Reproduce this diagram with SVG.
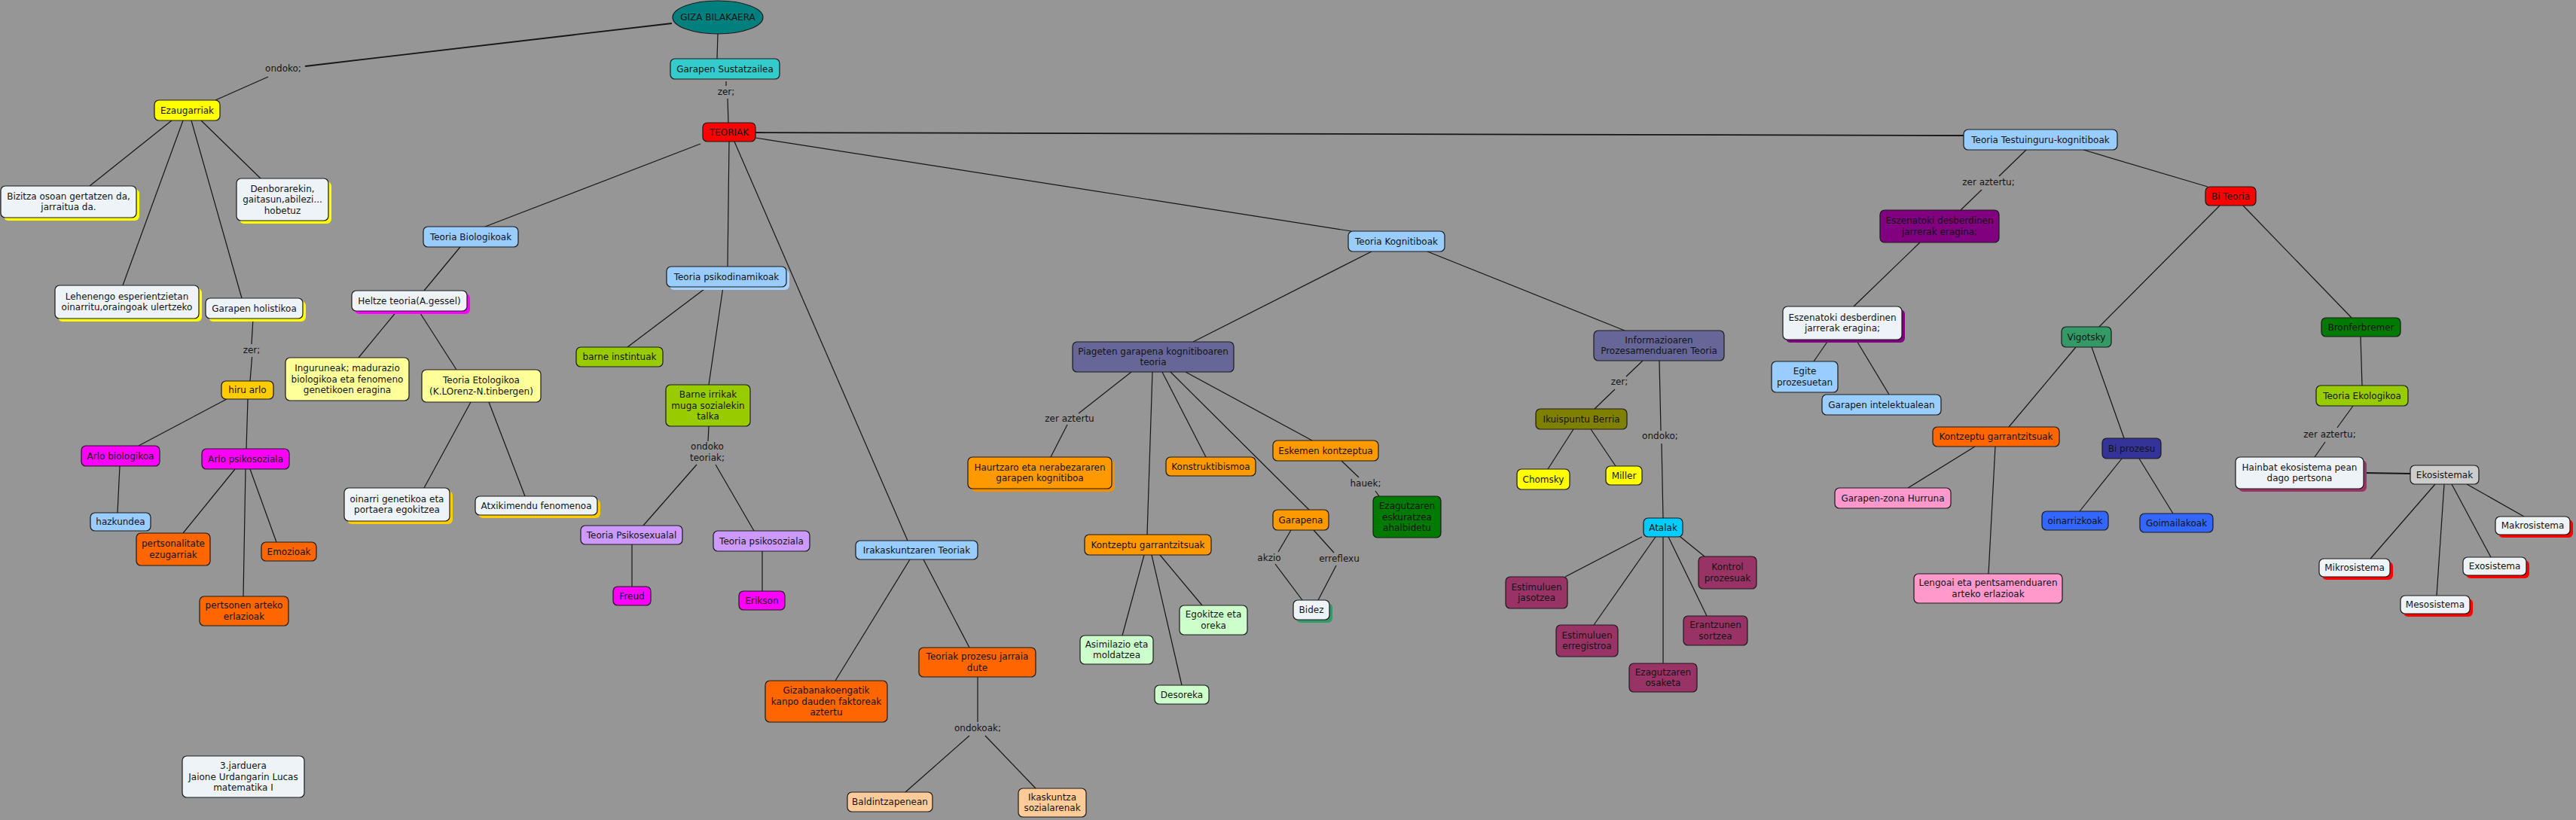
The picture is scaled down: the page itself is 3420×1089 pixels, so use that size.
<svg xmlns="http://www.w3.org/2000/svg" width="3420" height="1089" viewBox="0 0 3420 1089">
<style>
.t{font-family:"DejaVu Sans",Verdana,sans-serif;font-size:12px;text-anchor:middle;fill:#141414}
.n{stroke:#1a1a1a;stroke-width:1.2}
.s{stroke:none}
#conn line,#conn polyline{stroke:#151515;stroke-width:1.2;fill:none}
.thick{stroke-width:1.8 !important}
.wht{fill:#EEF3F7}.yel{fill:#FFFF00}.red{fill:#FF0000}.turq{fill:#33CCCC}.gold{fill:#FFCC00}.mag{fill:#FF00FF}
.lblue{fill:#99CCFF}.ora{fill:#FF6600}.lyel{fill:#FFFF99}.ygrn{fill:#99CC00}.lav{fill:#CC99FF}.peach{fill:#FFCC99}
.slate{fill:#666699}.ora2{fill:#FF9900}.grn{fill:#007A00}.lgrn{fill:#CCFFCC}.olive{fill:#808000}.sky{fill:#00CCFF}
.plum{fill:#993366}.purp{fill:#800080}.sea{fill:#339966}.navy{fill:#333399}.pink{fill:#FF99CC}.blue{fill:#3366FF}.grey{fill:#CCCCCC}
</style>
<rect x="0" y="0" width="3420" height="1089" fill="#969696"/>
<g id="conn">
<line x1="953" y1="45" x2="952" y2="78"/>
<line x1="964" y1="108" x2="964" y2="114"/>
<line x1="966" y1="131" x2="967" y2="163"/>
<line class="thick" x1="892" y1="31" x2="405" y2="88"/>
<line x1="356" y1="102" x2="286" y2="133"/>
<line class="thick" x1="1003" y1="176" x2="2607" y2="180"/>
<line x1="1003" y1="183" x2="1794" y2="307"/>
<line x1="930" y1="191" x2="644" y2="301"/>
<line x1="968" y1="188" x2="966" y2="354"/>
<line x1="975" y1="188" x2="1205" y2="718"/>
<line x1="228" y1="160" x2="119" y2="247"/>
<line x1="243" y1="160" x2="163" y2="379"/>
<line x1="254" y1="160" x2="321" y2="396"/>
<line x1="267" y1="160" x2="346" y2="237"/>
<line x1="336" y1="423" x2="334" y2="457"/>
<line x1="334.6" y1="474" x2="332" y2="506"/>
<line x1="301" y1="530" x2="184" y2="592"/>
<line x1="329" y1="530" x2="327" y2="596"/>
<line x1="159" y1="619" x2="156" y2="681"/>
<line x1="312" y1="623" x2="243" y2="708"/>
<line x1="332" y1="623" x2="367" y2="720"/>
<line x1="326" y1="623" x2="323" y2="792"/>
<line x1="611" y1="328" x2="563" y2="386"/>
<line x1="527" y1="413" x2="476" y2="475"/>
<line x1="556" y1="413" x2="606" y2="491"/>
<line x1="625" y1="534" x2="563" y2="648"/>
<line x1="649" y1="534" x2="697" y2="659"/>
<line x1="939" y1="381" x2="833" y2="461"/>
<line x1="960" y1="381" x2="941" y2="511"/>
<line x1="941" y1="566" x2="940" y2="586"/>
<line x1="925" y1="617" x2="854" y2="698"/>
<line x1="950" y1="617" x2="1001" y2="705"/>
<line x1="839" y1="723" x2="839" y2="779"/>
<line x1="1012" y1="732" x2="1012" y2="785"/>
<line x1="1821" y1="334" x2="1584" y2="454"/>
<line x1="1895" y1="334" x2="2157" y2="439"/>
<line x1="1502" y1="494" x2="1432" y2="549"/>
<line x1="1417" y1="564" x2="1395" y2="607"/>
<line x1="1530" y1="494" x2="1523" y2="710"/>
<line x1="1543" y1="494" x2="1601" y2="607"/>
<line x1="1554" y1="494" x2="1738" y2="677"/>
<line x1="1574" y1="494" x2="1742" y2="585"/>
<line x1="1781" y1="612" x2="1804" y2="634"/>
<line x1="1826" y1="652" x2="1831" y2="659"/>
<line x1="1714" y1="704" x2="1697" y2="733"/>
<line x1="1693" y1="749" x2="1729" y2="797"/>
<line x1="1744" y1="704" x2="1771" y2="734"/>
<line x1="1774" y1="751" x2="1750" y2="797"/>
<line x1="1519" y1="737" x2="1490" y2="844"/>
<line x1="1529" y1="737" x2="1569" y2="910"/>
<line x1="1540" y1="737" x2="1596" y2="804"/>
<line x1="1208" y1="743" x2="1109" y2="904"/>
<line x1="1226" y1="743" x2="1287" y2="860"/>
<line x1="1298" y1="899" x2="1298" y2="959"/>
<line x1="1287" y1="977" x2="1202" y2="1052"/>
<line x1="1308" y1="977" x2="1375" y2="1047"/>
<line x1="2181" y1="479" x2="2159" y2="500"/>
<line x1="2144" y1="517" x2="2117" y2="543"/>
<line x1="2089" y1="570" x2="2055" y2="623"/>
<line x1="2112" y1="570" x2="2145" y2="619"/>
<line x1="2203" y1="479" x2="2205" y2="572"/>
<line x1="2206" y1="589" x2="2208" y2="688"/>
<line x1="2180" y1="713" x2="2078" y2="766"/>
<line x1="2198" y1="713" x2="2116" y2="830"/>
<line x1="2208" y1="713" x2="2208" y2="881"/>
<line x1="2215" y1="713" x2="2266" y2="818"/>
<line x1="2231" y1="713" x2="2263" y2="739"/>
<line x1="2690" y1="199" x2="2654" y2="234"/>
<line x1="2631" y1="252" x2="2603" y2="279"/>
<line x1="2766" y1="199" x2="2931" y2="248"/>
<line x1="2549" y1="322" x2="2461" y2="407"/>
<line x1="2947" y1="273" x2="2787" y2="434"/>
<line x1="2978" y1="273" x2="3122" y2="422"/>
<line x1="2428" y1="451" x2="2408" y2="480"/>
<line x1="2464" y1="451" x2="2508" y2="524"/>
<line x1="2756" y1="461" x2="2667" y2="567"/>
<line x1="2777" y1="461" x2="2820" y2="582"/>
<line x1="2622" y1="593" x2="2533" y2="648"/>
<line x1="2649" y1="593" x2="2640" y2="762"/>
<line x1="2817" y1="609" x2="2761" y2="679"/>
<line x1="2840" y1="609" x2="2885" y2="682"/>
<line x1="3134" y1="447" x2="3136" y2="512"/>
<line x1="3124" y1="539" x2="3103" y2="568"/>
<line x1="3087" y1="587" x2="3073" y2="607"/>
<line class="thick" x1="3138" y1="628" x2="3200" y2="629"/>
<line x1="3233" y1="643" x2="3147" y2="742"/>
<line x1="3245" y1="643" x2="3235" y2="791"/>
<line x1="3255" y1="643" x2="3307" y2="740"/>
<line x1="3275" y1="643" x2="3351" y2="686"/>
</g>
<g id="labels">
<text class="t" x="376" y="95">ondoko;</text>
<text class="t" x="964" y="126">zer;</text>
<text class="t" x="334" y="469">zer;</text>
<text class="t" x="939" y="597">ondoko</text>
<text class="t" x="939" y="612">teoriak;</text>
<text class="t" x="1420" y="560">zer aztertu</text>
<text class="t" x="1813" y="646">hauek;</text>
<text class="t" x="1685" y="745">akzio</text>
<text class="t" x="1778" y="746">erreflexu</text>
<text class="t" x="1298" y="971">ondokoak;</text>
<text class="t" x="2150" y="511">zer;</text>
<text class="t" x="2204" y="583">ondoko;</text>
<text class="t" x="2640" y="246">zer aztertu;</text>
<text class="t" x="3093" y="581">zer aztertu;</text>
</g>
<g id="n-giza"><ellipse class="n" cx="953" cy="23" rx="60" ry="22" fill="#007F7F"/><text class="t" x="953" y="27">GIZA BILAKAERA</text></g>
<g id="n-sustatzailea"><rect class="n turq" x="890" y="78" width="145" height="27" rx="6"/><text class="t" x="962.5" y="95.5">Garapen Sustatzailea</text></g>
<g id="n-teoriak"><rect class="n red" x="933" y="163" width="70" height="25" rx="6"/><text class="t" x="968" y="179.5">TEORIAK</text></g>
<g id="n-ezaugarriak"><rect class="n yel" x="205" y="133" width="87" height="27" rx="6"/><text class="t" x="248.5" y="150.5">Ezaugarriak</text></g>
<g id="n-bizitza"><rect class="s yel" x="5" y="251" width="180" height="42" rx="6"/><rect class="n wht" x="1" y="247" width="180" height="42" rx="6"/><text class="t" x="91" y="264.75">Bizitza osoan gertatzen da,</text><text class="t" x="91" y="279.25">jarraitua da.</text></g>
<g id="n-denborarekin"><rect class="s yel" x="318" y="241" width="122" height="56" rx="6"/><rect class="n wht" x="314" y="237" width="122" height="56" rx="6"/><text class="t" x="375" y="254.5">Denborarekin,</text><text class="t" x="375" y="269">gaitasun,abilezi...</text><text class="t" x="375" y="283.5">hobetuz</text></g>
<g id="n-lehenengo"><rect class="s yel" x="77" y="383" width="191" height="44" rx="6"/><rect class="n wht" x="73" y="379" width="191" height="44" rx="6"/><text class="t" x="168.5" y="397.75">Lehenengo esperientzietan</text><text class="t" x="168.5" y="412.25">oinarritu,oraingoak ulertzeko</text></g>
<g id="n-holistikoa"><rect class="s yel" x="277" y="400" width="129" height="27" rx="6"/><rect class="n wht" x="273" y="396" width="129" height="27" rx="6"/><text class="t" x="337.5" y="413.5">Garapen holistikoa</text></g>
<g id="n-hiruarlo"><rect class="n gold" x="294" y="506" width="69" height="24" rx="6"/><text class="t" x="328.5" y="522">hiru arlo</text></g>
<g id="n-arlobio"><rect class="n mag" x="108" y="592" width="104" height="27" rx="6"/><text class="t" x="160" y="609.5">Arlo biologikoa</text></g>
<g id="n-arlopsiko"><rect class="n mag" x="268" y="596" width="116" height="27" rx="6"/><text class="t" x="326" y="613.5">Arlo psikosoziala</text></g>
<g id="n-hazkundea"><rect class="n lblue" x="120" y="681" width="80" height="24" rx="6"/><text class="t" x="160" y="697">hazkundea</text></g>
<g id="n-pertsonalitate"><rect class="n ora" x="181" y="708" width="98" height="43" rx="6"/><text class="t" x="230" y="726.25">pertsonalitate</text><text class="t" x="230" y="740.75">ezugarriak</text></g>
<g id="n-emozioak"><rect class="n ora" x="347" y="720" width="73" height="25" rx="6"/><text class="t" x="383.5" y="736.5">Emozioak</text></g>
<g id="n-pertsonen"><rect class="n ora" x="265" y="792" width="118" height="39" rx="6"/><text class="t" x="324" y="808.25">pertsonen arteko</text><text class="t" x="324" y="822.75">erlazioak</text></g>
<g id="n-biologikoak"><rect class="n lblue" x="562" y="301" width="126" height="27" rx="6"/><text class="t" x="625" y="318.5">Teoria Biologikoak</text></g>
<g id="n-heltze"><rect class="s mag" x="471" y="390" width="153" height="27" rx="6"/><rect class="n wht" x="467" y="386" width="153" height="27" rx="6"/><text class="t" x="543.5" y="403.5">Heltze teoria(A.gessel)</text></g>
<g id="n-inguruneak"><rect class="n lyel" x="379" y="475" width="164" height="57" rx="6"/><text class="t" x="461" y="493">Inguruneak; madurazio</text><text class="t" x="461" y="507.5">biologikoa eta fenomeno</text><text class="t" x="461" y="522">genetikoen eragina</text></g>
<g id="n-etologikoa"><rect class="n lyel" x="560" y="491" width="158" height="43" rx="6"/><text class="t" x="639" y="509.25">Teoria Etologikoa</text><text class="t" x="639" y="523.75">(K.LOrenz-N.tinbergen)</text></g>
<g id="n-oinarri"><rect class="s gold" x="461" y="652" width="140" height="44" rx="6"/><rect class="n wht" x="457" y="648" width="140" height="44" rx="6"/><text class="t" x="527" y="666.75">oinarri genetikoa eta</text><text class="t" x="527" y="681.25">portaera egokitzea</text></g>
<g id="n-atxikimendu"><rect class="s gold" x="635" y="663" width="162" height="25" rx="6"/><rect class="n wht" x="631" y="659" width="162" height="25" rx="6"/><text class="t" x="712" y="675.5">Atxikimendu fenomenoa</text></g>
<g id="n-psikodinamikoak"><rect class="s" fill="#A6D2FF" x="889" y="358" width="159" height="27" rx="6"/><rect class="n lblue" x="885" y="354" width="159" height="27" rx="6"/><text class="t" x="964.5" y="371.5">Teoria psikodinamikoak</text></g>
<g id="n-instintuak"><rect class="n ygrn" x="765" y="461" width="115" height="26" rx="6"/><text class="t" x="822.5" y="478">barne instintuak</text></g>
<g id="n-irrikak"><rect class="n ygrn" x="884" y="511" width="112" height="55" rx="6"/><text class="t" x="940" y="528">Barne irrikak</text><text class="t" x="940" y="542.5">muga sozialekin</text><text class="t" x="940" y="557">talka</text></g>
<g id="n-psikosexualal"><rect class="n lav" x="771" y="698" width="135" height="25" rx="6"/><text class="t" x="838.5" y="714.5">Teoria Psikosexualal</text></g>
<g id="n-psikosoziala"><rect class="n lav" x="947" y="705" width="128" height="27" rx="6"/><text class="t" x="1011" y="722.5">Teoria psikosoziala</text></g>
<g id="n-freud"><rect class="n mag" x="814" y="779" width="50" height="25" rx="6"/><text class="t" x="839" y="795.5">Freud</text></g>
<g id="n-erikson"><rect class="n mag" x="981" y="785" width="61" height="25" rx="6"/><text class="t" x="1011.5" y="801.5">Erikson</text></g>
<g id="n-jarduera"><rect class="n wht" x="242" y="1004" width="162" height="55" rx="6"/><text class="t" x="323" y="1021">3.jarduera</text><text class="t" x="323" y="1035.5">Jaione Urdangarin Lucas</text><text class="t" x="323" y="1050">matematika I</text></g>
<g id="n-kognitiboak"><rect class="n lblue" x="1790" y="307" width="128" height="27" rx="6"/><text class="t" x="1854" y="324.5">Teoria Kognitiboak</text></g>
<g id="n-irakaskuntzaren"><rect class="n lblue" x="1136" y="718" width="162" height="25" rx="6"/><text class="t" x="1217" y="734.5">Irakaskuntzaren Teoriak</text></g>
<g id="n-gizabanakoengatik"><rect class="n ora" x="1016" y="904" width="162" height="55" rx="6"/><text class="t" x="1097" y="921">Gizabanakoengatik</text><text class="t" x="1097" y="935.5">kanpo dauden faktoreak</text><text class="t" x="1097" y="950">aztertu</text></g>
<g id="n-prozesu"><rect class="n ora" x="1220" y="860" width="155" height="39" rx="6"/><text class="t" x="1297.5" y="876.25">Teoriak prozesu jarraia</text><text class="t" x="1297.5" y="890.75">dute</text></g>
<g id="n-baldintzapenean"><rect class="n peach" x="1125" y="1052" width="113" height="26" rx="6"/><text class="t" x="1181.5" y="1069">Baldintzapenean</text></g>
<g id="n-ikaskuntza"><rect class="n peach" x="1352" y="1047" width="90" height="38" rx="6"/><text class="t" x="1397" y="1062.75">Ikaskuntza</text><text class="t" x="1397" y="1077.25">sozialarenak</text></g>
<g id="n-piageten"><rect class="n slate" x="1424" y="454" width="214" height="40" rx="6"/><text class="t" x="1531" y="470.75">Piageten garapena kognitiboaren</text><text class="t" x="1531" y="485.25">teoria</text></g>
<g id="n-haurtzaro"><rect class="s" fill="#F29100" x="1289" y="611" width="191" height="42" rx="6"/><rect class="n ora2" x="1285" y="607" width="191" height="42" rx="6"/><text class="t" x="1380.5" y="624.75">Haurtzaro eta nerabezararen</text><text class="t" x="1380.5" y="639.25">garapen kognitiboa</text></g>
<g id="n-konstruktibismoa"><rect class="n ora2" x="1548" y="607" width="119" height="25" rx="6"/><text class="t" x="1607.5" y="623.5">Konstruktibismoa</text></g>
<g id="n-eskemen"><rect class="n ora2" x="1690" y="585" width="140" height="27" rx="6"/><text class="t" x="1760" y="602.5">Eskemen kontzeptua</text></g>
<g id="n-eskuratzea"><rect class="n grn" x="1823" y="659" width="90" height="55" rx="6"/><text class="t" x="1868" y="676">Ezagutzaren</text><text class="t" x="1868" y="690.5">eskuratzea</text><text class="t" x="1868" y="705">ahalbidetu</text></g>
<g id="n-garapena"><rect class="n ora2" x="1690" y="677" width="74" height="27" rx="6"/><text class="t" x="1727" y="694.5">Garapena</text></g>
<g id="n-bidez"><rect class="s sea" x="1721" y="801" width="48" height="26" rx="6"/><rect class="n wht" x="1717" y="797" width="48" height="26" rx="6"/><text class="t" x="1741" y="814">Bidez</text></g>
<g id="n-kontzeptu-p"><rect class="n ora2" x="1440" y="710" width="168" height="27" rx="6"/><text class="t" x="1524" y="727.5">Kontzeptu garrantzitsuak</text></g>
<g id="n-asimilazio"><rect class="n lgrn" x="1434" y="844" width="97" height="38" rx="6"/><text class="t" x="1482.5" y="859.75">Asimilazio eta</text><text class="t" x="1482.5" y="874.25">moldatzea</text></g>
<g id="n-egokitze"><rect class="n lgrn" x="1566" y="804" width="90" height="39" rx="6"/><text class="t" x="1611" y="820.25">Egokitze eta</text><text class="t" x="1611" y="834.75">oreka</text></g>
<g id="n-desoreka"><rect class="n lgrn" x="1533" y="910" width="72" height="25" rx="6"/><text class="t" x="1569" y="926.5">Desoreka</text></g>
<g id="n-informazioaren"><rect class="n slate" x="2116" y="439" width="173" height="40" rx="6"/><text class="t" x="2202.5" y="455.75">Informazioaren</text><text class="t" x="2202.5" y="470.25">Prozesamenduaren Teoria</text></g>
<g id="n-ikuispuntu"><rect class="n olive" x="2039" y="543" width="121" height="27" rx="6"/><text class="t" x="2099.5" y="560.5">Ikuispuntu Berria</text></g>
<g id="n-chomsky"><rect class="n yel" x="2014" y="623" width="70" height="27" rx="6"/><text class="t" x="2049" y="640.5">Chomsky</text></g>
<g id="n-miller"><rect class="n yel" x="2132" y="619" width="48" height="25" rx="6"/><text class="t" x="2156" y="635.5">Miller</text></g>
<g id="n-atalak"><rect class="n sky" x="2182" y="688" width="52" height="25" rx="6"/><text class="t" x="2208" y="704.5">Atalak</text></g>
<g id="n-jasotzea"><rect class="n plum" x="1999" y="766" width="82" height="42" rx="6"/><text class="t" x="2040" y="783.75">Estimuluen</text><text class="t" x="2040" y="798.25">jasotzea</text></g>
<g id="n-erregistroa"><rect class="n plum" x="2066" y="830" width="82" height="42" rx="6"/><text class="t" x="2107" y="847.75">Estimuluen</text><text class="t" x="2107" y="862.25">erregistroa</text></g>
<g id="n-osaketa"><rect class="n plum" x="2163" y="881" width="90" height="38" rx="6"/><text class="t" x="2208" y="896.75">Ezagutzaren</text><text class="t" x="2208" y="911.25">osaketa</text></g>
<g id="n-erantzunen"><rect class="n plum" x="2235" y="818" width="85" height="39" rx="6"/><text class="t" x="2277.5" y="834.25">Erantzunen</text><text class="t" x="2277.5" y="848.75">sortzea</text></g>
<g id="n-kontrol"><rect class="n plum" x="2255" y="739" width="77" height="43" rx="6"/><text class="t" x="2293.5" y="757.25">Kontrol</text><text class="t" x="2293.5" y="771.75">prozesuak</text></g>
<g id="n-testuinguru"><rect class="n lblue" x="2607" y="172" width="204" height="27" rx="6"/><text class="t" x="2709" y="189.5">Teoria Testuinguru-kognitiboak</text></g>
<g id="n-eszenatoki1"><rect class="n purp" x="2496" y="279" width="158" height="43" rx="6"/><text class="t" x="2575" y="297.25">Eszenatoki desberdinen</text><text class="t" x="2575" y="311.75">jarrerak eragina;</text></g>
<g id="n-biteoria"><rect class="n red" x="2928" y="248" width="67" height="25" rx="6"/><text class="t" x="2961.5" y="264.5">Bi Teoria</text></g>
<g id="n-eszenatoki2"><rect class="s purp" x="2371" y="411" width="158" height="44" rx="6"/><rect class="n wht" x="2367" y="407" width="158" height="44" rx="6"/><text class="t" x="2446" y="425.75">Eszenatoki desberdinen</text><text class="t" x="2446" y="440.25">jarrerak eragina;</text></g>
<g id="n-egite"><rect class="n lblue" x="2352" y="480" width="88" height="41" rx="6"/><text class="t" x="2396" y="497.25">Egite</text><text class="t" x="2396" y="511.75">prozesuetan</text></g>
<g id="n-intelektualean"><rect class="n lblue" x="2419" y="524" width="158" height="27" rx="6"/><text class="t" x="2498" y="541.5">Garapen intelektualean</text></g>
<g id="n-vigotsky"><rect class="n sea" x="2737" y="434" width="66" height="27" rx="6"/><text class="t" x="2770" y="451.5">Vigotsky</text></g>
<g id="n-bronferbremer"><rect class="n grn" x="3082" y="422" width="105" height="25" rx="6"/><text class="t" x="3134.5" y="438.5">Bronferbremer</text></g>
<g id="n-kontzeptu-v"><rect class="n ora" x="2566" y="567" width="168" height="26" rx="6"/><text class="t" x="2650" y="584">Kontzeptu garrantzitsuak</text></g>
<g id="n-biprozesu"><rect class="n navy" x="2791" y="582" width="78" height="27" rx="6"/><text class="t" x="2830" y="599.5">Bi prozesu</text></g>
<g id="n-garapenzona"><rect class="n pink" x="2436" y="648" width="154" height="27" rx="6"/><text class="t" x="2513" y="665.5">Garapen-zona Hurruna</text></g>
<g id="n-lengoai"><rect class="n pink" x="2541" y="762" width="197" height="39" rx="6"/><text class="t" x="2639.5" y="778.25">Lengoai eta pentsamenduaren</text><text class="t" x="2639.5" y="792.75">arteko erlazioak</text></g>
<g id="n-oinarrizkoak"><rect class="n blue" x="2711" y="679" width="88" height="25" rx="6"/><text class="t" x="2755" y="695.5">oinarrizkoak</text></g>
<g id="n-goimailakoak"><rect class="n blue" x="2841" y="682" width="97" height="25" rx="6"/><text class="t" x="2889.5" y="698.5">Goimailakoak</text></g>
<g id="n-ekologikoa"><rect class="n ygrn" x="3075" y="512" width="122" height="27" rx="6"/><text class="t" x="3136" y="529.5">Teoria Ekologikoa</text></g>
<g id="n-hainbat"><rect class="s plum" x="2972" y="611" width="170" height="42" rx="6"/><rect class="n wht" x="2968" y="607" width="170" height="42" rx="6"/><text class="t" x="3053" y="624.75">Hainbat ekosistema pean</text><text class="t" x="3053" y="639.25">dago pertsona</text></g>
<g id="n-ekosistemak"><rect class="n grey" x="3200" y="618" width="91" height="25" rx="6"/><text class="t" x="3245.5" y="634.5">Ekosistemak</text></g>
<g id="n-makro"><rect class="s red" x="3317" y="690" width="99" height="24" rx="6"/><rect class="n wht" x="3313" y="686" width="99" height="24" rx="6"/><text class="t" x="3362.5" y="702">Makrosistema</text></g>
<g id="n-mikro"><rect class="s red" x="3083" y="746" width="94" height="24" rx="6"/><rect class="n wht" x="3079" y="742" width="94" height="24" rx="6"/><text class="t" x="3126" y="758">Mikrosistema</text></g>
<g id="n-exo"><rect class="s red" x="3274" y="744" width="84" height="24" rx="6"/><rect class="n wht" x="3270" y="740" width="84" height="24" rx="6"/><text class="t" x="3312" y="756">Exosistema</text></g>
<g id="n-meso"><rect class="s red" x="3191" y="795" width="92" height="24" rx="6"/><rect class="n wht" x="3187" y="791" width="92" height="24" rx="6"/><text class="t" x="3233" y="807">Mesosistema</text></g>
</svg>
